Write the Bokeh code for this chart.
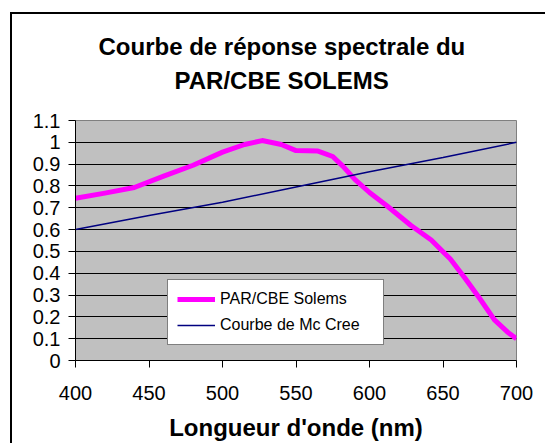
from bokeh.plotting import figure
from bokeh.models import (Range1d, FixedTicker, CustomJSTickFormatter, Legend,
                          LegendItem, Title, InlineStyleSheet)
from bokeh.embed import file_html
from bokeh.resources import INLINE

# ---- data ----
wavelength_par = [400, 420, 440, 460, 480, 500, 515, 527, 540, 550, 565, 575,
                  582, 590, 600, 612, 628, 642, 655, 665, 675, 685, 694, 700]
response_par = [0.744, 0.767, 0.793, 0.845, 0.895, 0.955, 0.99, 1.008, 0.99,
                0.962, 0.96, 0.935, 0.89, 0.83, 0.77, 0.708, 0.62, 0.552,
                0.465, 0.377, 0.284, 0.186, 0.13, 0.10]

wavelength_mccree = [400, 450, 500, 550, 600, 650, 700]
response_mccree = [0.60, 0.665, 0.725, 0.795, 0.865, 0.93, 1.0]

x_ticks = [400, 450, 500, 550, 600, 650, 700]
y_ticks = [0, 0.1, 0.2, 0.3, 0.4, 0.5, 0.6, 0.7, 0.8, 0.9, 1.0, 1.1]

title_lines = ["Courbe de réponse spectrale du", "PAR/CBE SOLEMS"]
x_title = "Longueur d'onde (nm)"
series_names = ["PAR/CBE Solems", "Courbe de Mc Cree"]

FONT = "Liberation Sans"

# ---- layout (pixels) ----
W, H = 545, 443
FL, FT, FW, FH = 75, 120, 441, 241          # plot-area frame
X0, X1, Y0, Y1 = 400, 700, 0, 1.1

p = figure(width=W, height=H, output_backend="svg", toolbar_location=None,
           title=None,
           x_range=Range1d(X0, X1), y_range=Range1d(Y0, Y1),
           min_border_left=FL, min_border_right=W - FL - FW,
           min_border_top=FT, min_border_bottom=H - FT - FH)

p.background_fill_color = "#C0C0C0"
p.border_fill_color = "white"
p.outline_line_color = "#808080"
p.outline_line_width = 1

# chart title: spacer next to the plot, then line 2, then line 1
p.add_layout(Title(text=" ", text_font=FONT, text_font_size="18px",
                   standoff=0), "above")
p.add_layout(Title(text=title_lines[1], align="left", offset=99,
                   text_font=FONT, text_font_size="24px",
                   text_font_style="bold", text_color="black",
                   standoff=10), "above")
p.add_layout(Title(text=title_lines[0], align="left", offset=23,
                   text_font=FONT, text_font_size="24px",
                   text_font_style="bold", text_color="black",
                   standoff=0), "above")

# axes
p.xaxis.ticker = FixedTicker(ticks=x_ticks)
p.yaxis.ticker = FixedTicker(ticks=y_ticks)
p.yaxis.formatter = CustomJSTickFormatter(code="return (Math.round(tick*10)/10).toString();")
for ax in (p.xaxis[0], p.yaxis[0]):
    ax.major_tick_out = 7
    ax.major_tick_in = 0
    ax.minor_tick_out = 0
    ax.minor_tick_in = 0
    ax.axis_line_color = "black"
    ax.axis_line_width = 1
    ax.major_tick_line_color = "black"
    ax.major_label_text_font = FONT
    ax.major_label_text_font_size = "20px"
    ax.major_label_text_color = "black"
p.yaxis.major_label_standoff = 8
p.xaxis.major_label_standoff = 18
p.xaxis.axis_label = x_title
p.xaxis.axis_label_text_font = FONT
p.xaxis.axis_label_text_font_size = "24px"
p.xaxis.axis_label_text_font_style = "bold"
p.xaxis.axis_label_text_color = "black"
p.xaxis.axis_label_standoff = 11

# grid
p.xgrid.visible = False
p.ygrid.ticker = FixedTicker(ticks=y_ticks)
p.ygrid.grid_line_color = "black"
p.ygrid.grid_line_width = 1

# series
r1 = p.line(wavelength_par, response_par, line_color="#FF00FF", line_width=5,
            line_join="round")
r2 = p.line(wavelength_mccree, response_mccree, line_color="#000080",
            line_width=1.5)

legend = Legend(items=[LegendItem(label=series_names[0], renderers=[r1]),
                       LegendItem(label=series_names[1], renderers=[r2])],
                location=(92, 15))
legend.background_fill_color = "white"
legend.background_fill_alpha = 1
legend.border_line_color = "black"
legend.border_line_width = 1
legend.label_text_font = FONT
legend.label_text_font_size = "16px"
legend.label_text_color = "black"
legend.glyph_width = 38
legend.glyph_height = 20
legend.label_height = 20
legend.label_width = 154
legend.label_standoff = 5
legend.spacing = 6
legend.padding = 9
legend.margin = 0
p.add_layout(legend)

# outer chart-area border (left and top edges; the rest lies off the page)
p.stylesheets = [InlineStyleSheet(css=(
    ":host::after { content: ''; position: absolute; left: 10px; top: 12px; "
    "right: 0; bottom: 0; border-left: 2px solid #000; border-top: 2px solid #000; "
    "pointer-events: none; z-index: 50; }"))]

open("out.html", "w").write(file_html(p, INLINE))
